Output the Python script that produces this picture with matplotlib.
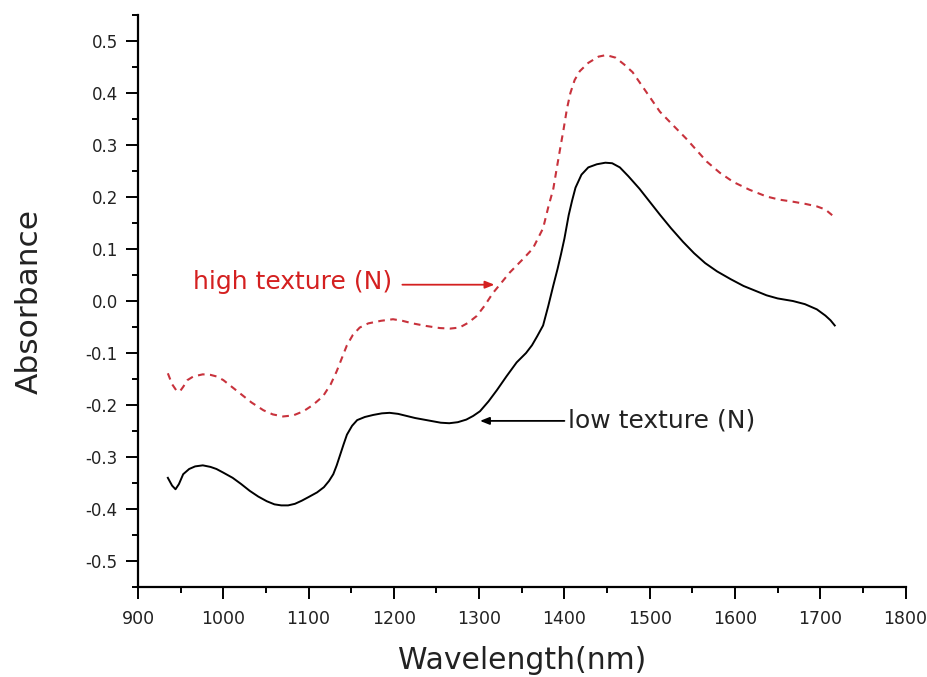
import matplotlib
matplotlib.use("Agg")
import matplotlib.pyplot as plt
from matplotlib.ticker import MultipleLocator

# NIR absorbance spectra for two texture classes
low_wavelength = [935, 940, 944, 948, 953, 960, 967, 976, 985, 992, 1000, 1011, 1021, 1031,
                  1041, 1051, 1060, 1068, 1076, 1084, 1092, 1100, 1110, 1118, 1124, 1129,
                  1133, 1137, 1141, 1145, 1151, 1157, 1166, 1176, 1186, 1195, 1205, 1215,
                  1225, 1235, 1245, 1255, 1265, 1275, 1285, 1293, 1301, 1311, 1321, 1332,
                  1344, 1355, 1362, 1368, 1375, 1381, 1387, 1392, 1396, 1400, 1405, 1409,
                  1413, 1420, 1428, 1438, 1448, 1456, 1465, 1475, 1488, 1500, 1512, 1525,
                  1539, 1552, 1565, 1579, 1595, 1610, 1625, 1637, 1650, 1668, 1682, 1696,
                  1706, 1712, 1717]
low_absorbance = [-0.340, -0.355, -0.362, -0.352, -0.333, -0.323, -0.318, -0.316, -0.319,
                  -0.323, -0.330, -0.340, -0.352, -0.365, -0.376, -0.385, -0.391, -0.393,
                  -0.393, -0.390, -0.384, -0.377, -0.368, -0.358, -0.346, -0.333, -0.316,
                  -0.296, -0.276, -0.257, -0.240, -0.229, -0.223, -0.219, -0.216, -0.215,
                  -0.217, -0.221, -0.225, -0.228, -0.231, -0.234, -0.235, -0.233, -0.228,
                  -0.221, -0.212, -0.193, -0.171, -0.145, -0.118, -0.100, -0.085, -0.068,
                  -0.047, -0.010, 0.030, 0.062, 0.090, 0.120, 0.165, 0.193, 0.218, 0.243,
                  0.257, 0.263, 0.266, 0.265, 0.257, 0.240, 0.216, 0.191, 0.166, 0.140,
                  0.114, 0.092, 0.073, 0.057, 0.042, 0.029, 0.019, 0.011, 0.005, 0.000,
                  -0.006, -0.016, -0.028, -0.037, -0.047]

high_wavelength = [935, 940, 945, 949, 953, 958, 965, 976, 985, 992, 1000, 1010, 1020, 1033,
                   1047, 1058, 1070, 1082, 1094, 1105, 1117, 1126, 1133, 1139, 1145, 1152,
                   1160, 1170, 1185, 1199, 1210, 1222, 1238, 1254, 1266, 1277, 1287, 1297,
                   1306, 1316, 1324, 1336, 1351, 1363, 1375, 1381, 1387, 1391, 1395, 1399,
                   1403, 1407, 1412, 1418, 1428, 1440, 1449, 1460, 1470, 1480, 1496, 1512,
                   1528, 1543, 1555, 1567, 1582, 1598, 1617, 1637, 1652, 1668, 1682, 1696,
                   1706, 1714]
high_absorbance = [-0.139, -0.160, -0.172, -0.174, -0.165, -0.152, -0.145, -0.141, -0.142,
                   -0.145, -0.152, -0.165, -0.178, -0.195, -0.210, -0.218, -0.222, -0.220,
                   -0.212, -0.200, -0.183, -0.160, -0.135, -0.110, -0.085, -0.065, -0.051,
                   -0.043, -0.038, -0.035, -0.038, -0.043, -0.048, -0.052, -0.053, -0.051,
                   -0.042, -0.029, -0.010, 0.015, 0.031, 0.055, 0.080, 0.101, 0.140, 0.180,
                   0.216, 0.255, 0.293, 0.330, 0.370, 0.400, 0.425, 0.442, 0.458, 0.470,
                   0.473, 0.468, 0.455, 0.440, 0.402, 0.364, 0.337, 0.312, 0.290, 0.268,
                   0.247, 0.229, 0.214, 0.201, 0.195, 0.191, 0.187, 0.182, 0.176, 0.165]

x_ticks = [900, 1000, 1100, 1200, 1300, 1400, 1500, 1600, 1700, 1800]
y_ticks = [-0.5, -0.4, -0.3, -0.2, -0.1, 0.0, 0.1, 0.2, 0.3, 0.4, 0.5]

RED_LINE = "#c8323c"
RED_TEXT = "#d42020"

plt.rcParams["font.family"] = ["DejaVu Sans"]

fig = plt.figure(figsize=(9.28, 6.77), dpi=100)
ax = fig.add_axes([0.1487, 0.1329, 0.8271, 0.8449])

ax.plot(high_wavelength, high_absorbance, color=RED_LINE, lw=1.5,
        linestyle=(0, (3.2, 2.6)))
ax.plot(low_wavelength, low_absorbance, color="black", lw=1.4)

ax.set_xlim(900, 1800)
ax.set_ylim(-0.55, 0.55)
ax.set_xticks(x_ticks)
ax.set_yticks(y_ticks)
ax.set_xticklabels([str(v) for v in x_ticks])
ax.set_yticklabels([f"{v:.1f}" for v in y_ticks])
ax.xaxis.set_minor_locator(MultipleLocator(50))
ax.yaxis.set_minor_locator(MultipleLocator(0.05))

for side in ("top", "right"):
    ax.spines[side].set_visible(False)
for side in ("left", "bottom"):
    ax.spines[side].set_linewidth(1.6)

ax.tick_params(which="major", direction="out", length=8.5, width=1.4,
               colors="black", labelcolor="#222222")
ax.tick_params(axis="x", which="major", pad=8, labelsize=12.5)
ax.tick_params(axis="y", which="major", pad=6, labelsize=12)
ax.tick_params(which="minor", direction="out", length=4.3, width=1.4)

ax.set_xlabel("Wavelength(nm)", fontsize=21.5, color="#222222", labelpad=13)
ax.set_ylabel("Absorbance", fontsize=22.5, color="#222222", labelpad=30)

arrow_black = dict(arrowstyle="-|>,head_length=0.55,head_width=0.22",
                   color="black", lw=1.3, shrinkA=0, shrinkB=0)
ax.annotate("", xy=(1301, -0.2305), xytext=(1400, -0.2305), arrowprops=arrow_black)
ax.text(1404, -0.2305, "low texture (N)", fontsize=18, color="#222222",
        ha="left", va="center")

arrow_red = dict(arrowstyle="-|>,head_length=0.55,head_width=0.22",
                 color=RED_TEXT, lw=1.3, shrinkA=0, shrinkB=0)
ax.annotate("", xy=(1318, 0.0314), xytext=(1210, 0.0314), arrowprops=arrow_red)
ax.text(1198, 0.036, "high texture (N)", fontsize=18, color=RED_TEXT,
        ha="right", va="center")

fig.savefig("out.png", dpi=100, facecolor="white")
